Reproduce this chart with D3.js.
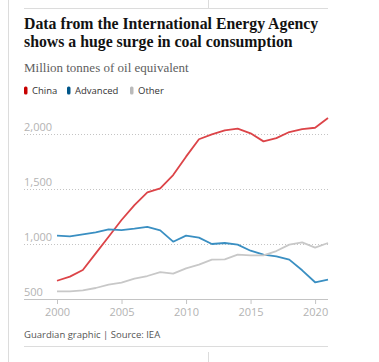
<!DOCTYPE html>
<html>
<head>
<meta charset="utf-8">
<script src="https://cdn.jsdelivr.net/npm/d3@7"></script>
<style>
  body { margin: 0; background: #fff; }
  svg { display: block; }
</style>
</head>
<body>
<div id="chart"></div>
<script>
const width = 379;
const height = 362;

const years = d3.range(2000, 2022);
const china = [666, 703, 764, 915, 1066, 1218, 1354, 1470, 1506, 1627, 1794, 1952,
  1997, 2033, 2048, 2006, 1933, 1963, 2018, 2045, 2057, 2145];
const advanced = [1076, 1070, 1088, 1106, 1133, 1127, 1139, 1155, 1124, 1021, 1076, 1058,
  1000, 1009, 994, 939, 903, 888, 858, 761, 652, 676];
const other = [570, 570, 579, 600, 630, 648, 685, 709, 745, 730, 779, 812,
  858, 861, 903, 897, 897, 936, 994, 1015, 967, 1009];

const seriesNames = ["China", "Advanced", "Other"];
const yTicks = [500, 1000, 1500, 2000];
const xTicks = [2000, 2005, 2010, 2015, 2020];

const lineColors = ["#dc4448", "#3a8fc2", "#c8c8c8"];
const keyColors = ["#c70000", "#005689", "#bababa"];

const left = 24;
const right = 328;

const xScale = d3.scaleLinear().domain([2000, 2021]).range([57, 328]);
const yScale = d3.scaleLinear().domain([500, 2000]).range([299, 134]);

const svg = d3
  .select("#chart")
  .append("svg")
  .attr("width", width)
  .attr("height", height);

// frame rules
const ruleColor = "#dcdcdc";
svg.append("line").attr("x1", 8.5).attr("x2", 8.5).attr("y1", 0).attr("y2", height)
  .attr("stroke", ruleColor);
svg.append("line").attr("x1", left).attr("x2", right).attr("y1", 8.5).attr("y2", 8.5)
  .attr("stroke", ruleColor);
svg.append("line").attr("x1", 208.5).attr("x2", 208.5).attr("y1", 0).attr("y2", 8)
  .attr("stroke", ruleColor);
svg.append("line").attr("x1", left).attr("x2", right).attr("y1", 346.5).attr("y2", 346.5)
  .attr("stroke", ruleColor);
svg.append("line").attr("x1", 208.5).attr("x2", 208.5).attr("y1", 352).attr("y2", height)
  .attr("stroke", ruleColor);

// headline
const title = svg
  .append("text")
  .attr("x", left)
  .attr("fill", "#121212")
  .style("font-family", "'Liberation Serif', serif")
  .style("font-weight", "bold")
  .style("font-size", "15.8px");
title.append("tspan").attr("x", left).attr("y", 29).text("Data from the International Energy Agency");
title.append("tspan").attr("x", left).attr("y", 47).text("shows a huge surge in coal consumption");

svg
  .append("text")
  .attr("x", left)
  .attr("y", 72)
  .attr("fill", "#606060")
  .style("font-family", "'Liberation Serif', serif")
  .style("font-size", "13px")
  .text("Million tonnes of oil equivalent");

// legend
const keyX = [24, 67, 130];
seriesNames.forEach((name, i) => {
  svg
    .append("rect")
    .attr("x", keyX[i])
    .attr("y", 86.5)
    .attr("width", 3.5)
    .attr("height", 8)
    .attr("rx", 1.5)
    .attr("fill", keyColors[i]);
  svg
    .append("text")
    .attr("x", keyX[i] + 8)
    .attr("y", 94)
    .attr("fill", "#333")
    .style("font-family", "'Open Sans', sans-serif")
    .style("font-size", "9.5px")
    .text(name);
});

// y axis with gridlines
const yAxis = d3
  .axisRight(yScale)
  .tickValues(yTicks)
  .tickSize(right - left)
  .tickFormat(d3.format(","));

const yG = svg
  .append("g")
  .attr("transform", `translate(${left},0)`)
  .call(yAxis);
yG.select(".domain").remove();
yG.selectAll(".tick line")
  .attr("stroke", "#c4c4c4")
  .attr("stroke-dasharray", d => (d === 500 ? null : "1,2"));
yG.selectAll(".tick text")
  .attr("x", 0)
  .attr("dy", -4)
  .attr("text-anchor", "start")
  .attr("fill", "#b3b3b3")
  .style("font-family", "'Open Sans', sans-serif")
  .style("font-size", "11px");

// x axis
const xAxis = d3
  .axisBottom(xScale)
  .tickValues(xTicks)
  .tickSize(5)
  .tickSizeOuter(0)
  .tickFormat(d3.format("d"));

const xG = svg
  .append("g")
  .attr("transform", `translate(0,${yScale(500)})`)
  .call(xAxis);
xG.select(".domain").remove();
xG.selectAll(".tick line").attr("stroke", "#c4c4c4");
xG.selectAll(".tick text")
  .attr("y", 9)
  .attr("fill", "#b3b3b3")
  .style("font-family", "'Open Sans', sans-serif")
  .style("font-size", "11px");

// lines
const line = d3
  .line()
  .x((d, i) => xScale(years[i]))
  .y(d => yScale(d));

[china, advanced, other].forEach((series, i) => {
  svg
    .append("path")
    .datum(series)
    .attr("fill", "none")
    .attr("stroke", lineColors[i])
    .attr("stroke-width", 1.8)
    .attr("stroke-linejoin", "round")
    .attr("d", line);
});

svg
  .append("text")
  .attr("x", left)
  .attr("y", 338)
  .attr("fill", "#555")
  .style("font-family", "'Open Sans', sans-serif")
  .style("font-size", "9.5px")
  .text("Guardian graphic | Source: IEA");
</script>
</body>
</html>
